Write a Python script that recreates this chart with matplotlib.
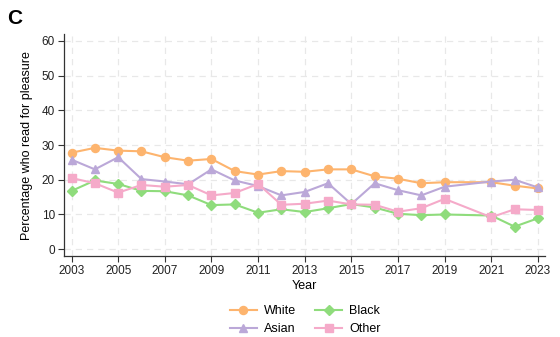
import matplotlib.pyplot as plt

plt.rcParams['font.family'] = ['Liberation Sans', 'DejaVu Sans']

years = [2003, 2004, 2005, 2006, 2007, 2008, 2009, 2010, 2011, 2012, 2013,
         2014, 2015, 2016, 2017, 2018, 2019, 2021, 2022, 2023]

white = [27.8, 29.2, 28.4, 28.2, 26.5, 25.5, 26.0, 22.5, 21.5, 22.5, 22.3,
         23.0, 23.0, 21.0, 20.3, 19.0, 19.3, 19.3, 18.3, 17.5]
asian = [25.8, 23.0, 26.5, 20.2, 19.5, 18.7, 23.0, 19.8, 18.2, 15.5, 16.5,
         19.0, 13.0, 19.0, 17.0, 15.5, 18.0, 19.5, 20.0, 17.8]
black = [16.8, 19.8, 18.8, 16.8, 16.7, 15.5, 12.7, 12.9, 10.5, 11.5, 10.7,
         11.8, 13.0, 12.0, 10.2, 9.8, 10.0, 9.7, 6.5, 8.9]
other = [20.5, 19.0, 16.3, 18.5, 18.0, 18.5, 15.5, 16.2, 18.8, 12.8, 13.1,
         14.0, 12.9, 12.8, 10.8, 11.8, 14.5, 9.2, 11.5, 11.3]

xticks = list(range(2003, 2024, 2))
yticks = [0, 10, 20, 30, 40, 50, 60]

series = [
    ('White', white, '#fdb46e', 'o'),
    ('Asian', asian, '#bba8d8', '^'),
    ('Black', black, '#8fdc7c', 'D'),
    ('Other', other, '#f5aac9', 's'),
]

fig = plt.figure(figsize=(5.6, 3.37), dpi=100)
ax = fig.add_axes([0.114, 0.240, 0.859, 0.659])

for name, vals, col, mk in series:
    ms = 5 if mk == 'D' else 5.8
    ax.plot(years, vals, color=col, marker=mk, markersize=ms, linewidth=1.5,
            label=name)

ax.set_xlim(2002.67, 2023.3)
ax.set_ylim(-2, 62)
ax.set_xticks(xticks)
ax.set_yticks(yticks)
ax.grid(True, color='#e8e8e8', linestyle=(0, (5, 4)), linewidth=0.9)
ax.set_axisbelow(True)
for s in ['top', 'right']:
    ax.spines[s].set_visible(False)
for s in ['left', 'bottom']:
    ax.spines[s].set_color('#333333')
    ax.spines[s].set_linewidth(0.9)
ax.tick_params(colors='#333333', labelsize=8.5, length=4, width=0.8,
               labelcolor='#222222', pad=2.5)

ax.set_xlabel('Year', fontsize=9, labelpad=2)
ax.set_ylabel('Percentage who read for pleasure', fontsize=9, labelpad=6)

ax.legend(loc='center', bbox_to_anchor=(0.545, 0.05),
          bbox_transform=fig.transFigure, ncol=2, frameon=False, fontsize=9,
          handlelength=2.2, columnspacing=1.5, labelspacing=0.45,
          handletextpad=0.55)

fig.text(0.013, 0.945, 'C', fontsize=15, fontweight='bold', va='center')
fig.text(0.51, 1.012, '—●— Female', fontsize=8, color='#c8c8c8',
         ha='center', va='center')

fig.savefig('out.png', dpi=100)
